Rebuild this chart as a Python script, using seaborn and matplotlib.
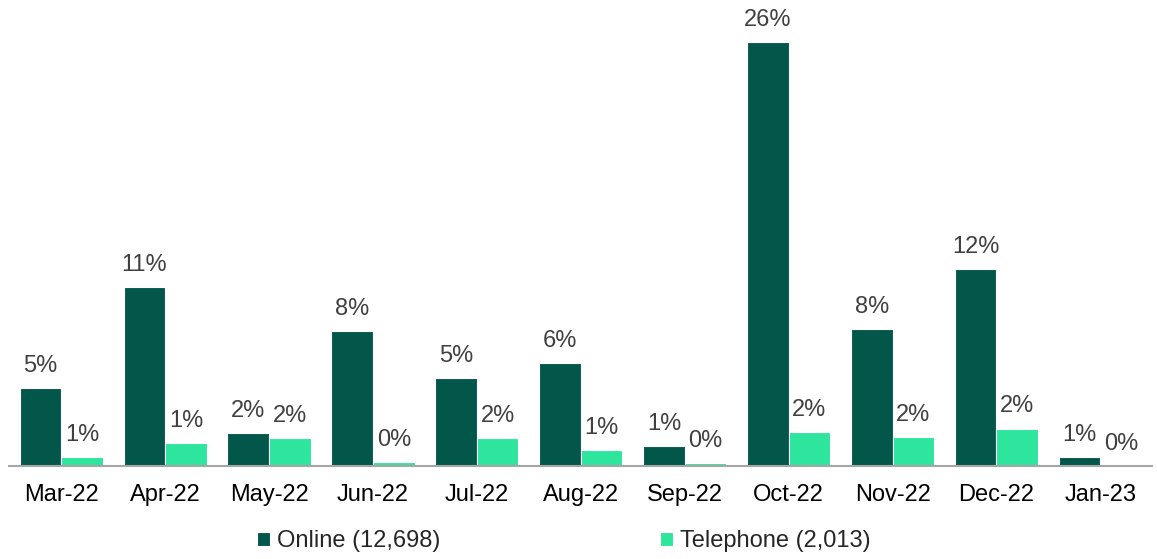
import seaborn as sns
import pandas as pd
import matplotlib.pyplot as plt

months = ["Mar-22", "Apr-22", "May-22", "Jun-22", "Jul-22", "Aug-22",
          "Sep-22", "Oct-22", "Nov-22", "Dec-22", "Jan-23"]
online = [4.8, 11.0, 2.0, 8.3, 5.4, 6.3, 1.2, 26.0, 8.4, 12.1, 0.55]
telephone = [0.55, 1.4, 1.7, 0.25, 1.7, 1.0, 0.2, 2.1, 1.8, 2.3, 0.0]
series = ["Online (12,698)", "Telephone (2,013)"]
colors = ["#03574A", "#2EE59E"]

df = pd.DataFrame({
    "month": months * 2,
    "value": online + telephone,
    "channel": [series[0]] * len(months) + [series[1]] * len(months),
})

sns.set_style("white")
plt.rcParams["font.family"] = ["Liberation Sans", "DejaVu Sans"]

fig = plt.figure(figsize=(11.57, 5.59), dpi=100)
ax = fig.add_axes([0.008, 0.1664, 0.988, 0.816])
sns.barplot(data=df, x="month", y="value", hue="channel", palette=colors,
            saturation=1, width=0.8, edgecolor="white", linewidth=0.8, ax=ax)

for cont in ax.containers:
    ax.bar_label(cont, labels=[f"{b.get_height():.0f}%" for b in cont],
                 padding=8, fontsize=17, color="#404040")

ax.set_ylim(0, 28)
ax.set_xlim(-0.5, 10.5)
ax.set_xlabel("")
ax.set_ylabel("")
ax.set_yticks([])
ax.tick_params(axis="x", length=0, pad=13, labelsize=17, labelcolor="black")
for s in ["top", "right", "left"]:
    ax.spines[s].set_visible(False)
ax.spines["bottom"].set_color("#A6A6A6")
ax.spines["bottom"].set_linewidth(1.5)

handles, labels = ax.get_legend_handles_labels()
ax.get_legend().remove()
fig.legend(handles, labels, loc="center", bbox_to_anchor=(0.4875, 0.032),
           ncol=2, frameon=False, fontsize=17, handlelength=0.55,
           handleheight=0.55, handletextpad=0.3, columnspacing=9.3)

fig.savefig("out.png", dpi=100)
